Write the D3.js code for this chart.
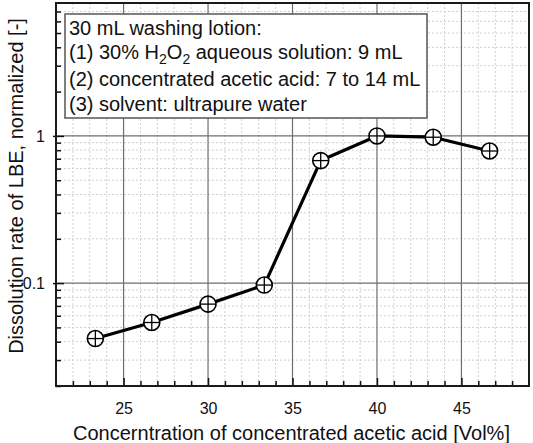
<!DOCTYPE html>
<html>
<head>
<meta charset="utf-8">
<script src="https://cdn.jsdelivr.net/npm/d3@7"></script>
<style>
  html, body { margin: 0; padding: 0; background: #fff; }
  svg { display: block; font-family: "Liberation Sans", Arial, sans-serif; }
</style>
</head>
<body>
<svg id="chart" width="533" height="443"></svg>
<script>
// ---- data ----
const concentration = [23.33, 26.67, 30.0, 33.33, 36.67, 40.0, 43.33, 46.67];
const dissolutionRate = [0.042, 0.054, 0.072, 0.097, 0.68, 1.0, 0.98, 0.79];
const xMajorTicks = [25, 30, 35, 40, 45];
const yMajorTicks = [0.1, 1];
const yTickLabels = ["0.1", "1"];
const xTitle = "Concerntration of concentrated acetic acid [Vol%]";
const yTitle = "Dissolution rate of LBE, normalized [-]";
const legendLines = [
  [{t: "30 mL washing lotion:"}],
  [{t: "(1) 30% H"}, {t: "2", sub: true}, {t: "O"}, {t: "2", sub: true}, {t: " aqueous solution: 9 mL"}],
  [{t: "(2) concentrated acetic acid: 7 to 14 mL"}],
  [{t: "(3) solvent: ultrapure water"}]
];

// ---- layout ----
const svg = d3.select("#chart");
const L = 56, R = 529, T = 3, B = 386;
const x = d3.scaleLinear().domain([21, 49]).range([L, R]);
const y = d3.scaleLog().domain([0.02, 8]).range([B, T]);

const xMinor = d3.range(22, 49, 1).filter(v => !xMajorTicks.includes(v));
const yMinor = [];
[0.01, 0.1, 1].forEach(d => { for (let k = 2; k <= 9; k++) { const v = +(d * k).toPrecision(3); if (v >= 0.02 && v < 8) yMinor.push(v); } });

// minor grid
const g = svg.append("g");
g.selectAll(".xmg").data(xMinor).join("line")
  .attr("x1", d => x(d)).attr("x2", d => x(d)).attr("y1", T).attr("y2", B)
  .attr("stroke", "#cfcfcf").attr("stroke-width", 1).attr("stroke-dasharray", "2,2");
g.selectAll(".ymg").data(yMinor).join("line")
  .attr("x1", L).attr("x2", R).attr("y1", d => y(d)).attr("y2", d => y(d))
  .attr("stroke", "#cfcfcf").attr("stroke-width", 1).attr("stroke-dasharray", "2,2");
// major grid
g.selectAll(".xMg").data(xMajorTicks).join("line")
  .attr("x1", d => x(d)).attr("x2", d => x(d)).attr("y1", T).attr("y2", B)
  .attr("stroke", "#6e6e6e").attr("stroke-width", 1.2);
g.selectAll(".yMg").data(yMajorTicks).join("line")
  .attr("x1", L).attr("x2", R).attr("y1", d => y(d)).attr("y2", d => y(d))
  .attr("stroke", "#6e6e6e").attr("stroke-width", 1.2);

// axes with inward ticks
const xAxisMinor = d3.axisBottom(x).tickValues(xMinor).tickSize(-5).tickFormat("");
const xAxisMajor = d3.axisBottom(x).tickValues(xMajorTicks).tickSize(-8).tickPadding(17).tickFormat(d3.format("d"));
const yAxisMinor = d3.axisLeft(y).tickValues(yMinor).tickSize(-5).tickFormat("");
const yAxisMajor = d3.axisLeft(y).tickValues(yMajorTicks).tickSize(-8).tickPadding(11).tickFormat((d, i) => yTickLabels[i]);

function styleAxis(sel) {
  sel.select(".domain").remove();
  sel.selectAll("line").attr("stroke", "#111").attr("stroke-width", 1.5);
  sel.selectAll("text").attr("fill", "#111").attr("font-size", 16)
    .attr("font-family", "'Liberation Sans', Arial, sans-serif");
}
svg.append("g").attr("transform", `translate(0,${B})`).call(xAxisMinor).call(styleAxis);
svg.append("g").attr("transform", `translate(0,${B})`).call(xAxisMajor).call(styleAxis);
svg.append("g").attr("transform", `translate(${L},0)`).call(yAxisMinor).call(styleAxis);
const ya = svg.append("g").attr("transform", `translate(${L},0)`).call(yAxisMajor).call(styleAxis);
ya.selectAll(".tick").append("line").attr("x1", -3).attr("x2", 0).attr("stroke", "#111").attr("stroke-width", 1.5);

// frame
svg.append("rect").attr("x", L).attr("y", T).attr("width", R - L).attr("height", B - T)
  .attr("fill", "none").attr("stroke", "#1a1a1a").attr("stroke-width", 2);

// legend box
const lg = svg.append("g");
lg.append("rect").attr("x", 65).attr("y", 14).attr("width", 362).attr("height", 104)
  .attr("fill", "#fff").attr("stroke", "#555").attr("stroke-width", 1.5);
const baselines = [35, 59, 86, 111];
legendLines.forEach((parts, i) => {
  const t = lg.append("text").attr("x", 69).attr("y", baselines[i]).attr("font-size", 20).attr("fill", "#111");
  parts.forEach((p, j) => {
    const ts = t.append("tspan").text(p.t);
    if (p.sub) ts.attr("font-size", 14).attr("dy", 5);
    else if (j > 0 && parts[j - 1].sub) ts.attr("dy", -5);
  });
});

// data line
const line = d3.line().x((d, i) => x(concentration[i])).y(d => y(d));
svg.append("path").datum(dissolutionRate).attr("d", line)
  .attr("fill", "none").attr("stroke", "#000").attr("stroke-width", 3.2).attr("stroke-linejoin", "round");

// markers: circle-plus
const r = 8;
const m = svg.selectAll(".mk").data(dissolutionRate).join("g")
  .attr("transform", (d, i) => `translate(${x(concentration[i])},${y(d)})`);
m.append("circle").attr("r", r).attr("fill", "#fff").attr("stroke", "#000").attr("stroke-width", 1.6);
m.append("line").attr("x1", -r).attr("x2", r).attr("stroke", "#000").attr("stroke-width", 1.3);
m.append("line").attr("y1", -r).attr("y2", r).attr("stroke", "#000").attr("stroke-width", 1.3);

// axis titles
svg.append("text").attr("x", (75 + 508) / 2).attr("y", 440).attr("text-anchor", "middle")
  .attr("font-size", 20).attr("fill", "#111").text(xTitle);
svg.append("text").attr("transform", `translate(23,${(10 + 362) / 2}) rotate(-90)`).attr("text-anchor", "middle")
  .attr("font-size", 20).attr("fill", "#111").text(yTitle);
</script>
</body>
</html>
